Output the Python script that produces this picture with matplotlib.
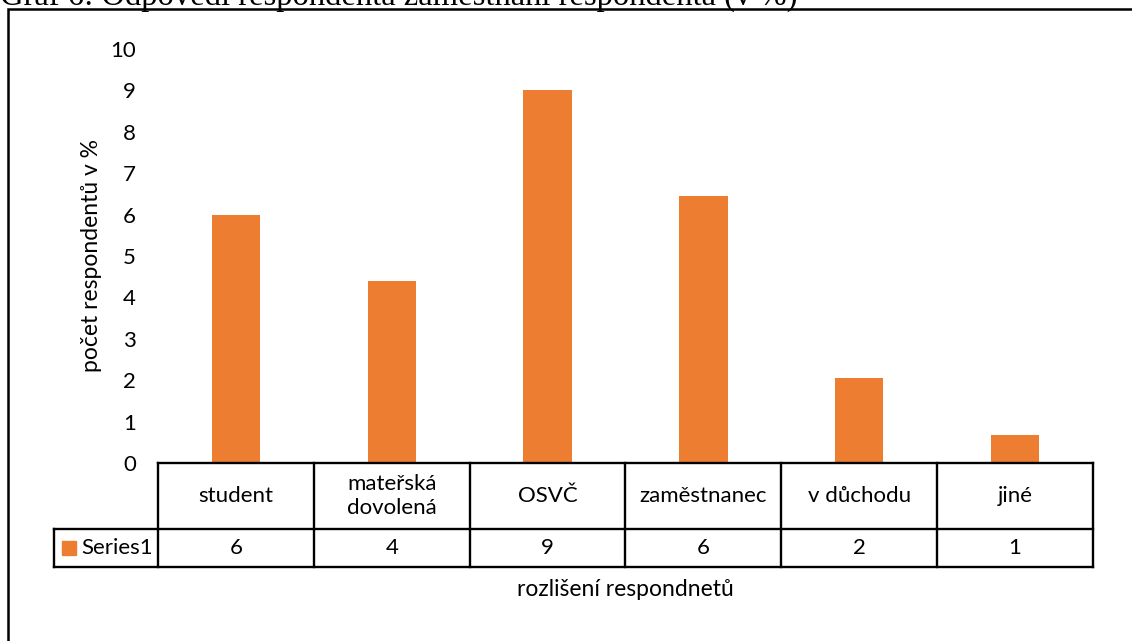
import matplotlib.pyplot as plt
from matplotlib.patches import Rectangle

# --- data ---
categories = ["student", "mateřská\ndovolená", "OSVČ", "zaměstnanec", "v důchodu", "jiné"]
values = [6.0, 4.4, 9.0, 6.45, 2.05, 0.68]
table_values = ["6", "4", "9", "6", "2", "1"]
series_name = "Series1"
yticks = list(range(0, 11))

BAR_COLOR = "#ED7D31"
FONT = ["Lato", "DejaVu Sans"]
FS = 16

W, H = 1132, 641
fig = plt.figure(figsize=(W / 100, H / 100), dpi=100)
plt.rcParams["font.family"] = FONT

# plot area (pixel coords from the reference)
left, right, top, bottom = 158, 1093, 49, 463
ax = fig.add_axes([left / W, 1 - bottom / H, (right - left) / W, (bottom - top) / H])

x = list(range(len(categories)))
ax.bar(x, values, width=0.31, color=BAR_COLOR, zorder=2)
ax.set_xlim(-0.5, len(categories) - 0.5)
ax.set_ylim(0, 10)
ax.set_yticks(yticks)
ax.set_xticks([])
ax.tick_params(axis="y", length=0, pad=16, labelsize=FS, labelcolor="#000000")
for s in ax.spines.values():
    s.set_visible(False)
ax.set_ylabel("počet respondentů v %", fontsize=FS + 0.5, labelpad=6)

# --- data table under the axis ---
px_per_unit_y = (bottom - top) / 10.0
px_per_unit_x = (right - left) / len(categories)
r1 = -66 / px_per_unit_y          # bottom of category row
r2 = r1 - 38 / px_per_unit_y      # bottom of value row
x0 = -0.5
x1 = len(categories) - 0.5
xleg = x0 - 104 / px_per_unit_x   # left edge of legend cell

lk = dict(color="black", lw=1.7, clip_on=False, zorder=3, solid_capstyle="projecting")
ax.plot([x0, x1], [0, 0], **lk)
ax.plot([xleg, x1], [r1, r1], **lk)
ax.plot([xleg, x1], [r2, r2], **lk)
for i in range(len(categories) + 1):
    ax.plot([x0 + i, x0 + i], [0, r2], **lk)
ax.plot([xleg, xleg], [r1, r2], **lk)

for i, (c, v) in enumerate(zip(categories, table_values)):
    ax.text(i, r1 / 2, c, ha="center", va="center", fontsize=FS, linespacing=1.2, clip_on=False)
    ax.text(i, (r1 + r2) / 2, v, ha="center", va="center", fontsize=FS, clip_on=False)

# legend key in the table
sq = 14 / px_per_unit_x
sq_h = 14 / px_per_unit_y
key_x = xleg + 8 / px_per_unit_x
key_y = (r1 + r2) / 2 - sq_h / 2
ax.add_patch(Rectangle((key_x, key_y), sq, sq_h, color=BAR_COLOR, clip_on=False))
ax.text(key_x + sq + 5 / px_per_unit_x, (r1 + r2) / 2, series_name, ha="left", va="center",
        fontsize=FS, clip_on=False)

fig.text(625 / W, 1 - 590 / H, "rozlišení respondnetů", ha="center", va="center", fontsize=FS + 0.5)

# outer frame of the chart object
fig.patches.append(Rectangle((8 / W, -0.1), 1.2, 1.1 - 9 / H, transform=fig.transFigure,
                             fill=False, edgecolor="black", lw=1.8))

# caption clipped at the top of the image
fig.text(0.0, 1 - 5 / H, "Graf 6: Odpovědi respondenta zaměstnání respondenta (v %)",
         family=["Liberation Serif", "DejaVu Serif"], fontsize=23.5, ha="left", va="baseline")

fig.savefig("out.png", dpi=100, facecolor="white")
